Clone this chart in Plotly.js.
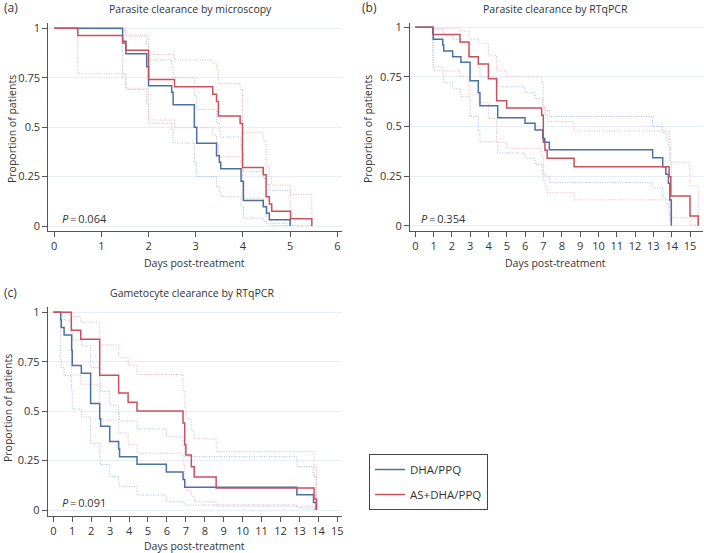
<!DOCTYPE html>
<html>
<head>
<meta charset="utf-8">
<script src="https://cdn.plot.ly/plotly-3.0.1.min.js"></script>
<style>html,body{margin:0;padding:0;background:#fff}#chart{width:704px;height:553px}</style>
</head>
<body>
<div id="chart"></div>
<script>
// ---------- Data ----------
const armNames = ["DHA/PPQ", "AS+DHA/PPQ"];
const panelTitles = ["Parasite clearance by microscopy", "Parasite clearance by RTqPCR", "Gametocyte clearance by RTqPCR"];
const panelLabels = ["(a)", "(b)", "(c)"];
const pValues = ["0.064", "0.354", "0.091"];
const yTickVals = [0, 0.25, 0.5, 0.75, 1];
const yTickText = ["0", "0.25", "0.5", "0.75", "1"];
const xTicksA = [0, 1, 2, 3, 4, 5, 6];
const xTicksBC = [0, 1, 2, 3, 4, 5, 6, 7, 8, 9, 10, 11, 12, 13, 14, 15];

// Panel (a) - DHA/PPQ
const aDhaT  = [0, 1.45, 1.52, 1.96, 2.0, 2.49, 2.52, 2.97, 3.02, 3.44, 3.5, 3.53, 3.96, 4.01, 4.43, 4.5, 4.56, 5.0];
const aDhaS  = [1, 0.935, 0.871, 0.806, 0.71, 0.677, 0.613, 0.5, 0.419, 0.355, 0.323, 0.29, 0.226, 0.129, 0.097, 0.065, 0.032, 0];
const aDhaHi = [1, 0.99, 0.96, 0.92, 0.84, 0.81, 0.75, 0.66, 0.59, 0.52, 0.48, 0.45, 0.38, 0.275, 0.24, 0.21, 0.18, 0];
const aDhaLo = [1, 0.77, 0.69, 0.62, 0.52, 0.49, 0.42, 0.32, 0.25, 0.2, 0.175, 0.148, 0.1, 0.04, 0.025, 0.012, 0.003, 0];
// Panel (a) - AS+DHA/PPQ
const aAsT  = [0, 0.5, 1.45, 1.52, 2.0, 2.55, 3.36, 3.44, 3.48, 3.94, 3.99, 4.43, 4.49, 4.56, 4.61, 5.01, 5.46];
const aAsS  = [1, 0.963, 0.926, 0.889, 0.741, 0.704, 0.667, 0.63, 0.556, 0.519, 0.296, 0.259, 0.148, 0.111, 0.074, 0.037, 0];
const aAsHi = [1, 0.995, 0.99, 0.966, 0.868, 0.84, 0.82, 0.79, 0.72, 0.69, 0.472, 0.43, 0.3, 0.25, 0.207, 0.16, 0];
const aAsLo = [1, 0.77, 0.75, 0.697, 0.536, 0.497, 0.46, 0.42, 0.35, 0.32, 0.14, 0.11, 0.05, 0.03, 0.013, 0.003, 0];

// Panel (b) - DHA/PPQ
const bDhaT  = [0, 0.95, 0.98, 1.5, 1.55, 2.04, 2.49, 2.99, 3.44, 3.53, 4.5, 5.99, 6.54, 6.96, 7.07, 7.32, 12.96, 13.51, 13.68, 13.82, 13.9, 13.98];
const bDhaS  = [1, 0.97, 0.94, 0.91, 0.88, 0.852, 0.824, 0.73, 0.67, 0.605, 0.544, 0.516, 0.482, 0.44, 0.42, 0.383, 0.343, 0.297, 0.259, 0.214, 0.13, 0];
const bDhaHi = [1, 1.0, 0.99, 0.975, 0.96, 0.94, 0.92, 0.85, 0.8, 0.75, 0.70, 0.67, 0.64, 0.6, 0.58, 0.55, 0.50, 0.47, 0.44, 0.4, 0.32, 0];
const bDhaLo = [1, 0.83, 0.8, 0.76, 0.72, 0.69, 0.65, 0.55, 0.48, 0.423, 0.366, 0.34, 0.31, 0.27, 0.25, 0.217, 0.19, 0.14, 0.11, 0.07, 0.02, 0];
// Panel (b) - AS+DHA/PPQ
const bAsT  = [0, 0.98, 2.44, 2.93, 3.44, 3.99, 4.44, 4.99, 6.9, 6.99, 7.08, 7.2, 8.67, 13.86, 13.95, 15.0, 15.45];
const bAsS  = [1, 0.963, 0.926, 0.852, 0.815, 0.741, 0.63, 0.593, 0.556, 0.42, 0.38, 0.34, 0.297, 0.247, 0.15, 0.049, 0];
const bAsHi = [1, 0.995, 0.98, 0.94, 0.92, 0.86, 0.78, 0.75, 0.72, 0.6, 0.56, 0.524, 0.477, 0.44, 0.32, 0.2, 0];
const bAsLo = [1, 0.78, 0.75, 0.66, 0.62, 0.54, 0.42, 0.39, 0.35, 0.23, 0.2, 0.166, 0.13, 0.1, 0.04, 0.003, 0];

// Panel (c) - DHA/PPQ
const cDhaT  = [0, 0.39, 0.42, 0.57, 0.97, 1.0, 1.48, 1.97, 2.45, 2.5, 2.98, 3.45, 3.5, 4.42, 5.97, 6.85, 6.94, 12.86, 13.74, 13.88];
const cDhaS  = [1, 0.962, 0.923, 0.885, 0.808, 0.731, 0.692, 0.538, 0.462, 0.423, 0.346, 0.308, 0.269, 0.231, 0.192, 0.154, 0.115, 0.077, 0.038, 0];
const cDhaHi = [1, 0.995, 0.98, 0.96, 0.92, 0.86, 0.83, 0.72, 0.64, 0.6, 0.53, 0.49, 0.45, 0.41, 0.37, 0.32, 0.27, 0.22, 0.17, 0];
const cDhaLo = [1, 0.76, 0.72, 0.68, 0.6, 0.51, 0.47, 0.337, 0.27, 0.23, 0.17, 0.14, 0.118, 0.076, 0.042, 0.035, 0.025, 0.01, 0.003, 0];
// Panel (c) - AS+DHA/PPQ
const cAsT  = [0, 0.95, 1.45, 2.45, 3.45, 3.95, 4.42, 6.85, 6.94, 7.0, 7.29, 7.44, 8.6, 13.77, 13.9];
const cAsS  = [1, 0.909, 0.864, 0.682, 0.591, 0.545, 0.5, 0.44, 0.33, 0.278, 0.219, 0.167, 0.111, 0.056, 0];
const cAsHi = [1, 0.978, 0.95, 0.835, 0.77, 0.733, 0.685, 0.6, 0.52, 0.46, 0.40, 0.36, 0.295, 0.22, 0];
const cAsLo = [1, 0.683, 0.636, 0.455, 0.39, 0.33, 0.287, 0.23, 0.14, 0.1, 0.07, 0.042, 0.02, 0.005, 0];

// ---------- Styling ----------
const FONT = '"Open Sans", "Liberation Sans", sans-serif';
const TXT = '#333333';
const BLUE = '#4a71a3';
const RED = '#c9505d';
const BLUE_CI = '#a9bfdc';
const RED_CI = '#ecb2b9';

const panels = [
  {xa: 'x',  ya: 'y',  dha: [aDhaT, aDhaS, aDhaLo, aDhaHi], as: [aAsT, aAsS, aAsLo, aAsHi]},
  {xa: 'x2', ya: 'y2', dha: [bDhaT, bDhaS, bDhaLo, bDhaHi], as: [bAsT, bAsS, bAsLo, bAsHi]},
  {xa: 'x3', ya: 'y3', dha: [cDhaT, cDhaS, cDhaLo, cDhaHi], as: [cAsT, cAsS, cAsLo, cAsHi]}
];

const traces = [];
function addCI(p, arr, color) {
  [arr[2], arr[3]].forEach(v => traces.push({
    type: 'scatter', mode: 'lines', x: arr[0], y: v, xaxis: p.xa, yaxis: p.ya,
    line: {shape: 'hv', color: color, width: 1, dash: '1px,1.5px'},
    showlegend: false, hoverinfo: 'skip'
  }));
}
panels.forEach(p => { addCI(p, p.dha, BLUE_CI); addCI(p, p.as, RED_CI); });
panels.forEach((p, i) => {
  traces.push({type: 'scatter', mode: 'lines', name: armNames[0], legendgroup: 'dha', showlegend: i === 0,
    x: p.dha[0], y: p.dha[1], xaxis: p.xa, yaxis: p.ya, line: {shape: 'hv', color: BLUE, width: 1.5}});
  traces.push({type: 'scatter', mode: 'lines', name: armNames[1], legendgroup: 'as', showlegend: i === 0,
    x: p.as[0], y: p.as[1], xaxis: p.xa, yaxis: p.ya, line: {shape: 'hv', color: RED, width: 1.5}});
});

const W = 704, H = 553;
const px = v => v / W, py = v => 1 - v / H;

function xAxis(domain, range, ticks, anchor) {
  return {domain: domain, range: range, anchor: anchor, tickmode: 'array', tickvals: ticks,
    ticks: 'outside', ticklen: 5, tickwidth: 1, tickcolor: '#555', showline: true, linecolor: '#555', linewidth: 1,
    showgrid: false, zeroline: false, tickfont: {family: FONT, size: 11, color: TXT}, fixedrange: true};
}
function yAxis(domain, range, anchor) {
  return {domain: domain, range: range, anchor: anchor, tickmode: 'array', tickvals: yTickVals, ticktext: yTickText,
    ticks: 'outside', ticklen: 5, tickwidth: 1, tickcolor: '#555', showline: true, linecolor: '#555', linewidth: 1,
    showgrid: true, gridcolor: '#e8eff4', gridwidth: 1, zeroline: false,
    tickfont: {family: FONT, size: 11, color: TXT}, fixedrange: true};
}

const ann = [];
function addText(text, x, y, size, opts) {
  ann.push(Object.assign({text: text, xref: 'paper', yref: 'paper', x: px(x), y: py(y), showarrow: false,
    xanchor: 'center', yanchor: 'middle', font: {family: FONT, size: size, color: TXT}}, opts || {}));
}
// panel labels and titles
addText(panelLabels[0], 2, 8, 12, {xanchor: 'left'});
addText(panelTitles[0], 190.5, 9, 10.5);
addText(panelLabels[1], 360, 8, 12, {xanchor: 'left'});
addText(panelTitles[1], 555, 9, 10.5);
addText(panelLabels[2], 2, 292, 12, {xanchor: 'left'});
addText(panelTitles[2], 192, 293, 10.5);
// axis titles
addText('Days post-treatment', 194, 263, 10.5);
addText('Days post-treatment', 555, 263, 10.5);
addText('Days post-treatment', 194, 546, 10.5);
addText('Proportion of patients', 12, 129, 10.5, {textangle: -90});
addText('Proportion of patients', 368, 129, 10.5, {textangle: -90});
addText('Proportion of patients', 8, 408, 10.5, {textangle: -90});
// P values
addText('<i>P</i>\u2009=\u2009' + pValues[0], 60, 218, 11, {xanchor: 'left'});
addText('<i>P</i>\u2009=\u2009' + pValues[1], 419, 218, 11, {xanchor: 'left'});
addText('<i>P</i>\u2009=\u2009' + pValues[2], 60, 502, 11, {xanchor: 'left'});

const layout = {
  width: W, height: H, margin: {l: 0, r: 0, t: 0, b: 0},
  paper_bgcolor: '#ffffff', plot_bgcolor: '#ffffff',
  font: {family: FONT, color: TXT},
  xaxis:  xAxis([px(48.3), px(341.7)], [-0.125, 6.093], xTicksA, 'y'),
  yaxis:  yAxis([1 - 231 / H, 1 - 23.3 / H], [-0.0253, 1.0253], 'x'),
  xaxis2: xAxis([px(410), px(703)], [-0.29, 15.71], xTicksBC, 'y2'),
  yaxis2: yAxis([1 - 231 / H, 1 - 22.7 / H], [-0.0267, 1.023], 'x2'),
  xaxis3: xAxis([px(47.7), px(341.7)], [-0.296, 15.23], xTicksBC, 'y3'),
  yaxis3: yAxis([1 - 515.7 / H, 1 - 306.7 / H], [-0.0288, 1.028], 'x3'),
  showlegend: true,
  legend: {x: px(369), y: py(454), xanchor: 'left', yanchor: 'top', bordercolor: '#444', borderwidth: 1,
    bgcolor: '#ffffff', font: {family: FONT, size: 11.5, color: TXT}, tracegroupgap: 6, itemwidth: 30,
    entrywidth: 95, entrywidthmode: 'pixels', valign: 'middle'},
  annotations: ann
};

Plotly.newPlot('chart', traces, layout, {displayModeBar: false, staticPlot: true});
</script>
</body>
</html>
